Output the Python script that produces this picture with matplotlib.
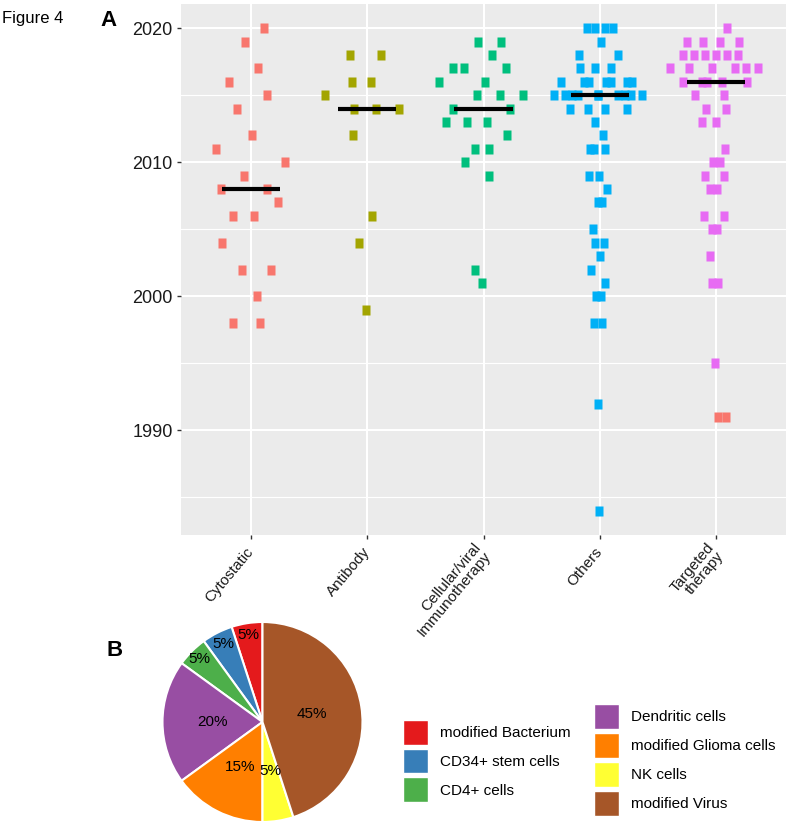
import numpy as np
import matplotlib
matplotlib.use('Agg')
import matplotlib.pyplot as plt
from matplotlib.patches import Patch

plt.rcParams['font.family'] = ['Liberation Sans', 'DejaVu Sans']

# Panel A data: year per trial and horizontal jitter (in category units)
categories = ['Cytostatic', 'Antibody', 'Cellular/viral\nImmunotherapy', 'Others', 'Targeted\ntherapy']
colors = ['#F8766D', '#A3A500', '#00BF7D', '#00B0F6', '#E76BF3']

cyto_years = [2020, 2019, 2017, 2016, 2015, 2014, 2012, 2011, 2010, 2009, 2008, 2008,
              2007, 2006, 2006, 2004, 2002, 2002, 2000, 1998, 1998]
cyto_jit = [0.11, -0.05, 0.06, -0.19, 0.14, -0.12, 0.01, -0.30, 0.29, -0.06, -0.26, 0.14,
            0.23, -0.15, 0.03, -0.25, -0.08, 0.17, 0.05, -0.15, 0.08]

anti_years = [2018, 2018, 2016, 2016, 2015, 2014, 2014, 2014, 2012, 2006, 2004, 1999]
anti_jit = [-0.15, 0.12, -0.13, 0.03, -0.36, -0.11, 0.08, 0.27, -0.12, 0.04, -0.07, -0.01]

cell_years = [2019, 2019, 2018, 2017, 2017, 2017, 2016, 2016, 2015, 2015, 2015, 2014, 2014,
              2013, 2013, 2013, 2012, 2011, 2011, 2010, 2009, 2002, 2001]
cell_jit = [-0.05, 0.15, 0.07, -0.26, -0.17, 0.19, -0.38, 0.01, -0.06, 0.14, 0.34, -0.26, 0.23,
            -0.32, -0.14, 0.03, 0.20, -0.07, 0.05, -0.16, 0.05, -0.07, -0.01]

oth_years = [2020, 2020, 2020, 2020, 2019, 2018, 2018, 2017, 2017, 2017,
             2016, 2016, 2016, 2016, 2016, 2016, 2016,
             2015, 2015, 2015, 2015, 2015, 2015, 2015, 2015, 2015, 2015,
             2014, 2014, 2014, 2014, 2013, 2012, 2011, 2011, 2011, 2009, 2009, 2008,
             2007, 2007, 2005, 2004, 2004, 2003, 2002, 2001, 2000, 2000, 1998, 1998, 1992, 1984]
oth_jit = [-0.11, -0.04, 0.04, 0.115, 0.01, -0.18, 0.16, -0.17, -0.04, 0.10,
           -0.33, -0.135, -0.09, 0.05, 0.095, 0.235, 0.28,
           -0.39, -0.30, -0.24, -0.19, -0.02, -0.02, 0.16, 0.22, 0.265, 0.36,
           -0.255, -0.10, 0.045, 0.23, -0.045, 0.025, -0.085, -0.05, 0.045, -0.09, -0.005, 0.06,
           -0.02, 0.02, -0.055, -0.045, 0.035, 0.0, -0.075, 0.045, -0.03, 0.01, -0.05, 0.015, -0.02, -0.01]

targ_years = [2020, 2019, 2019, 2019, 2019, 2018, 2018, 2018, 2018, 2018, 2018,
              2017, 2017, 2017, 2017, 2017, 2017, 2016, 2016, 2016, 2016, 2016,
              2015, 2015, 2014, 2014, 2013, 2013, 2011, 2010, 2010, 2009, 2009,
              2008, 2008, 2006, 2006, 2005, 2005, 2003, 2001, 2001, 1995]
targ_jit = [0.09, -0.25, -0.11, 0.03, 0.20, -0.285, -0.19, -0.095, 0.0, 0.095, 0.19,
            -0.395, -0.235, -0.035, 0.165, 0.26, 0.36, -0.285, -0.12, -0.075, 0.05, 0.265,
            -0.18, 0.065, -0.085, 0.085, -0.125, 0.0, 0.075, -0.03, 0.035, -0.095, 0.07,
            -0.055, 0.005, -0.105, 0.065, -0.035, 0.01, -0.055, -0.04, 0.015, -0.01]

# two red points drawn in the targeted therapy column
extra_years = [1991, 1991]
extra_jit = [0.015, 0.08]

groups = [(cyto_years, cyto_jit), (anti_years, anti_jit), (cell_years, cell_jit),
          (oth_years, oth_jit), (targ_years, targ_jit)]

# Panel B data
pie_labels = ['modified Bacterium', 'CD34+ stem cells', 'CD4+ cells', 'Dendritic cells',
              'modified Glioma cells', 'NK cells', 'modified Virus']
pie_share = [5, 5, 5, 20, 15, 5, 45]
pie_colors = ['#E41A1C', '#377EB8', '#4DAF4A', '#984EA3', '#FF7F00', '#FFFF33', '#A65628']
label_r = [0.88, 0.87, 0.89, 0.5, 0.5, 0.5, 0.5]

W, H = 788, 825
fig = plt.figure(figsize=(W / 100, H / 100), dpi=100)

# ---------- Panel A
ax = fig.add_axes([181 / W, 1 - 535 / H, (786 - 181) / W, (535 - 4) / H])
ax.set_facecolor('#EBEBEB')
for s in ax.spines.values():
    s.set_visible(False)

rect = [(-0.42, -0.5), (0.42, -0.5), (0.42, 0.5), (-0.42, 0.5), (-0.42, -0.5)]
for i, (yrs, jit) in enumerate(groups):
    x = i + np.array(jit)
    ax.plot(x, yrs, ls='none', marker=rect, ms=7, mec='none', mfc=colors[i], zorder=3)
    med = np.median(yrs)
    ax.plot([i - 0.25, i + 0.25], [med, med], color='black', lw=3, solid_capstyle='butt', zorder=4)
ax.plot(4 + np.array(extra_jit), extra_years, ls='none', marker=rect, ms=7, mec='none',
        mfc=colors[0], zorder=3)

ax.set_xlim(-0.6, 4.6)
ax.set_ylim(1982.2, 2021.8)
ax.set_yticks([1990, 2000, 2010, 2020])
ax.set_yticks([1985, 1995, 2005, 2015], minor=True)
ax.set_xticks(range(5))
ax.set_xticklabels(categories, rotation=50, ha='right', va='center', rotation_mode='anchor',
                   fontsize=11, linespacing=0.9)
ax.grid(which='major', color='white', lw=1.5)
ax.grid(which='minor', axis='y', color='white', lw=0.8)
ax.set_axisbelow(True)
ax.tick_params(axis='both', which='major', length=3, width=1, color='#333333',
               labelcolor='#1a1a1a', labelsize=13, pad=3)
ax.tick_params(axis='x', labelsize=11, pad=7)
ax.tick_params(which='minor', length=0)

fig.text(2 / W, 1 - 18 / H, 'Figure 4', fontsize=12, va='center', ha='left')
fig.text(100 / W, 1 - 21 / H, 'A', fontsize=16, fontweight='bold', va='center', ha='left')
fig.text(107 / W, 1 - 651 / H, 'B', fontsize=16, fontweight='bold', va='center', ha='left')

# ---------- Panel B
axp = fig.add_axes([161.5 / W, 1 - 823 / H, 202 / W, 202 / H])
wedges, _ = axp.pie(pie_share, colors=pie_colors, startangle=90, counterclock=True,
                    wedgeprops=dict(edgecolor='white', linewidth=1.5))
for w, pct, r in zip(wedges, pie_share, label_r):
    ang = np.deg2rad((w.theta1 + w.theta2) / 2)
    axp.text(r * np.cos(ang), r * np.sin(ang), f'{pct}%', ha='center', va='center', fontsize=11)
axp.set_xlim(-1.01, 1.01)
axp.set_ylim(-1.01, 1.01)

handles = [Patch(facecolor=c, edgecolor='white') for c in pie_colors]
leg_kw = dict(frameon=False, fontsize=11, handlelength=1.64, handleheight=2.14,
              labelspacing=0.26, handletextpad=0.75, borderpad=0, borderaxespad=0,
              loc='center left')
fig.legend(handles[:3], pie_labels[:3], bbox_to_anchor=(403 / W, 1 - 761 / H), **leg_kw)
fig.legend(handles[3:], pie_labels[3:], bbox_to_anchor=(594 / W, 1 - 760 / H), **leg_kw)

fig.savefig('out.png', dpi=100)
